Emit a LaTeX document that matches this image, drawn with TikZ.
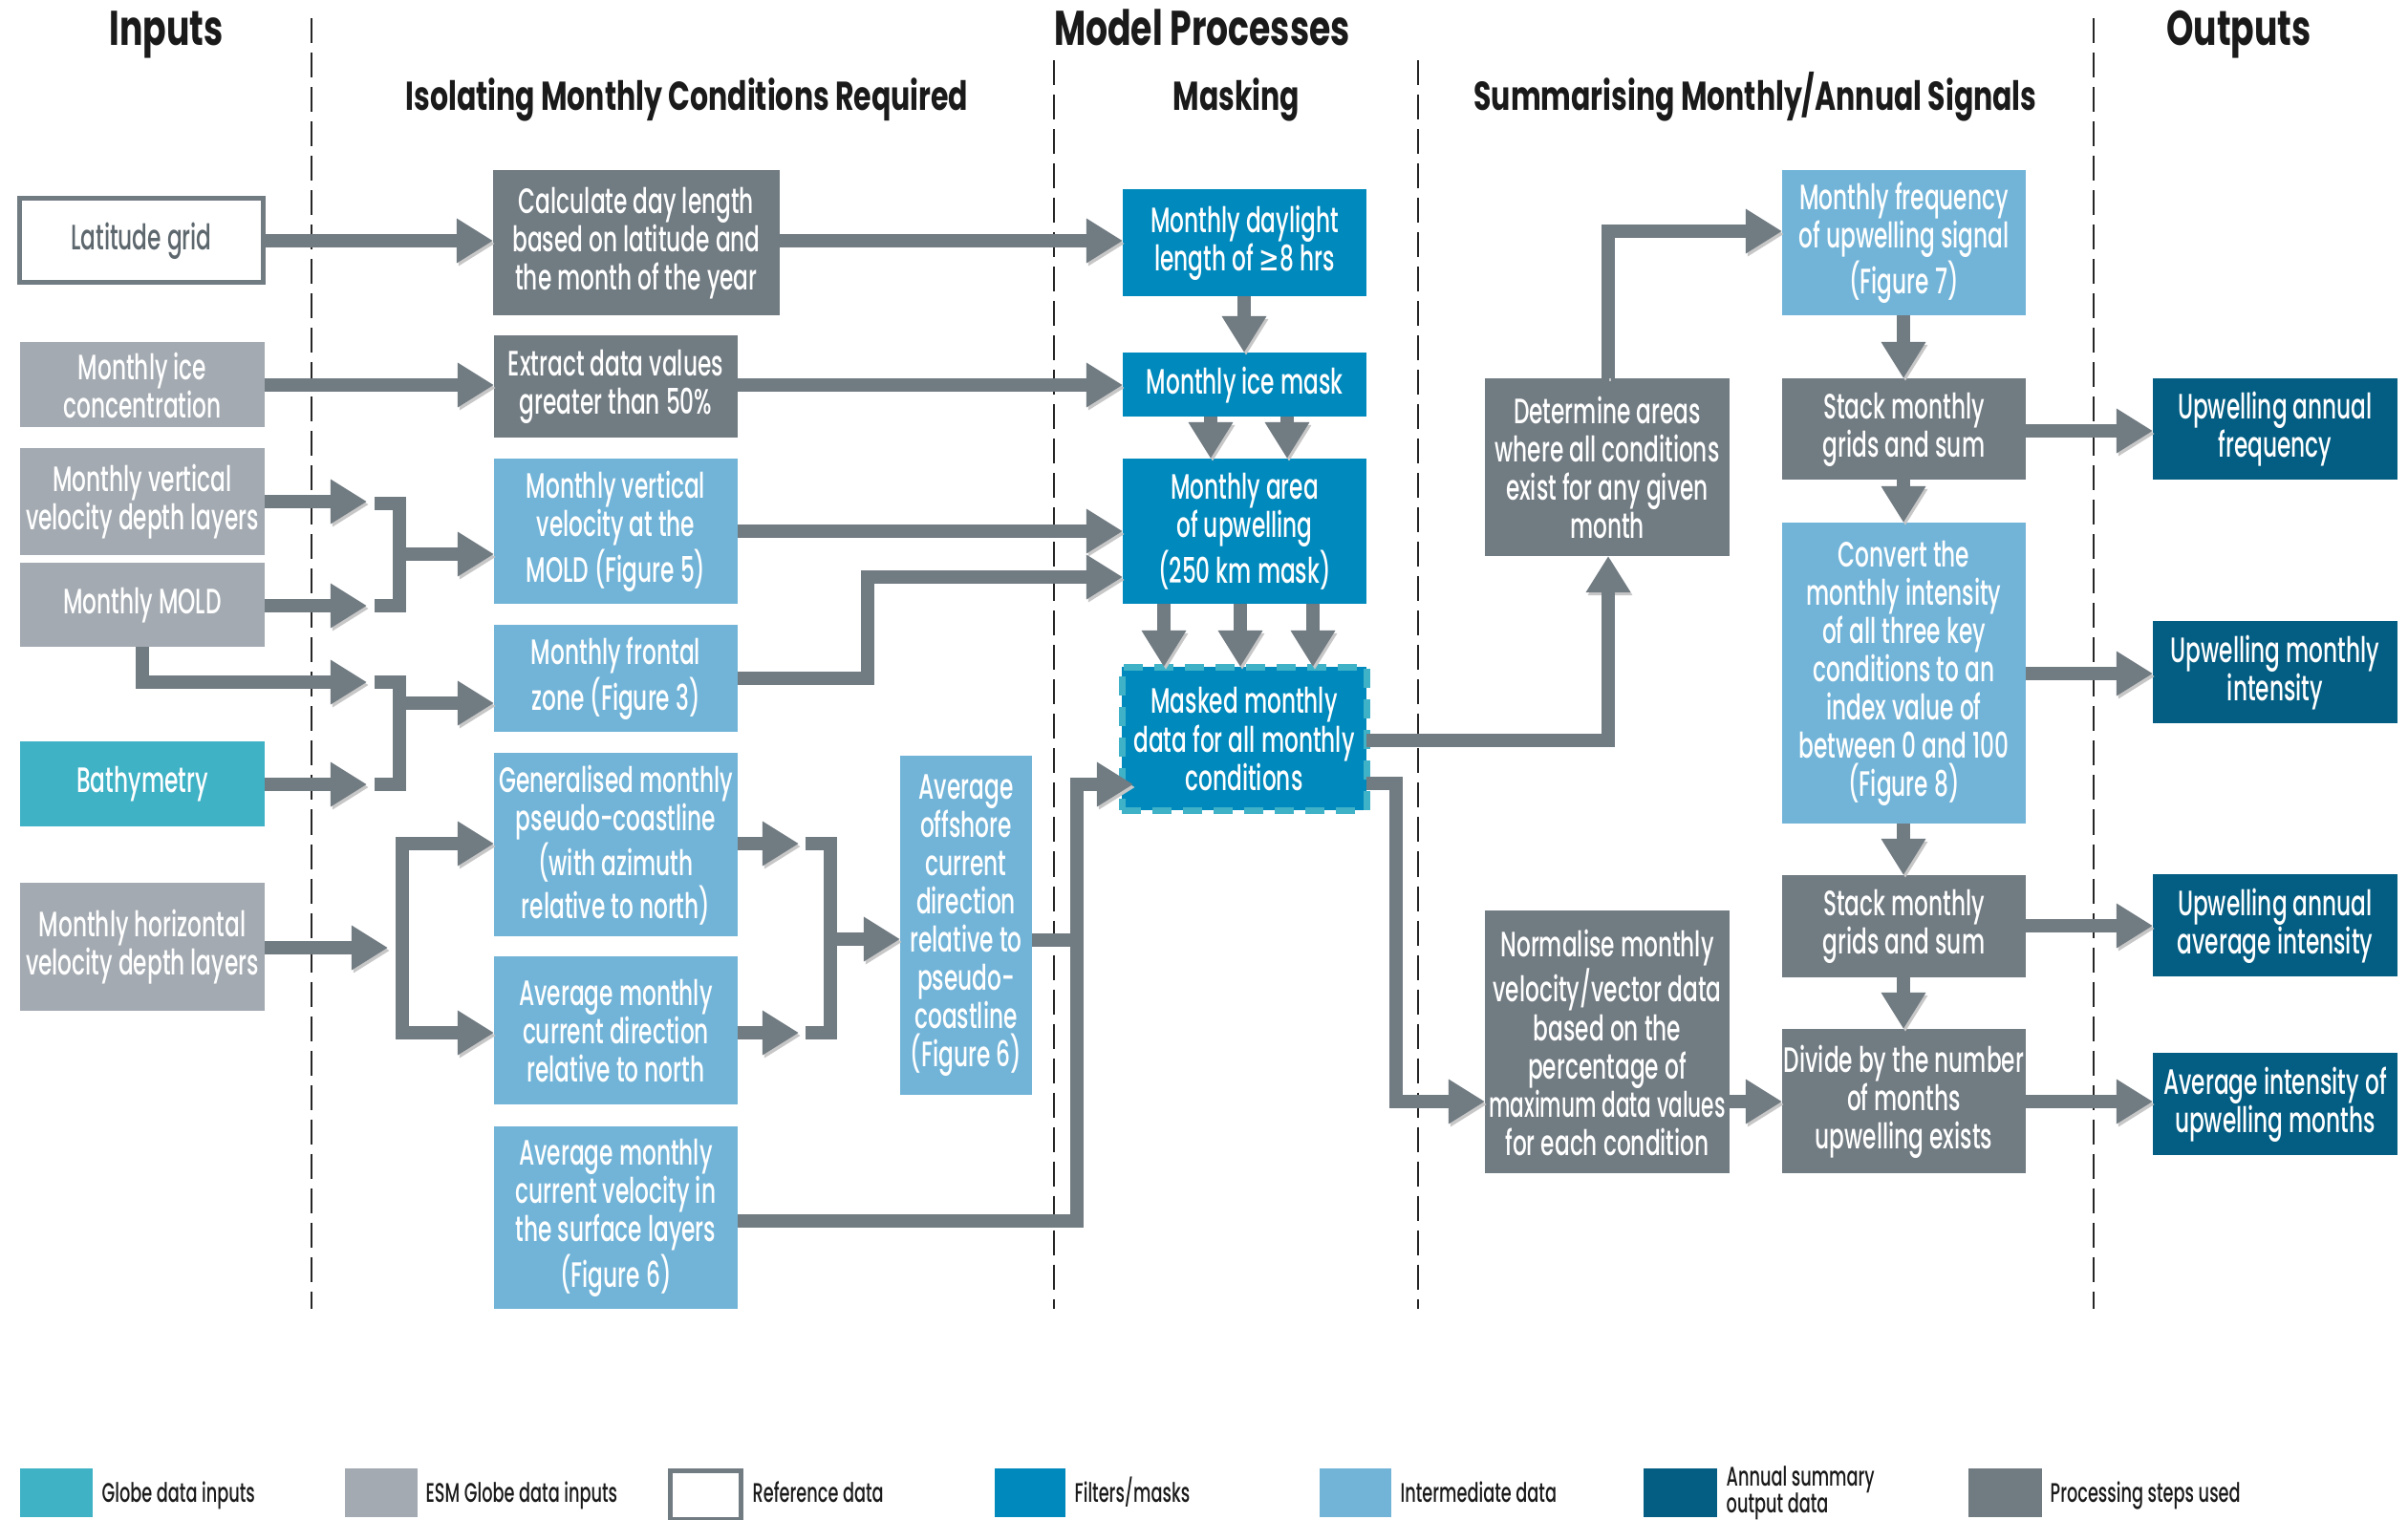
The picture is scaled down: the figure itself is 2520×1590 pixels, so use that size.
\documentclass[tikz,border=0pt]{standalone}
\usepackage{fontspec}
\setmainfont{Poppins}[UprightFont=* Medium, BoldFont=* Bold, FakeStretch=0.63]
\newfontfamily\hdfont{Poppins}[FakeStretch=0.71]
\newfontfamily\symfont{DejaVu Sans}[FakeStretch=0.7]
\usetikzlibrary{arrows.meta,fit}
\definecolor{cGlobe}{HTML}{40B2C6}
\definecolor{cEsm}{HTML}{A3AAB1}
\definecolor{cProc}{HTML}{717B82}
\definecolor{cFilt}{HTML}{0089BC}
\definecolor{cInter}{HTML}{72B4D8}
\definecolor{cOut}{HTML}{045E83}
\definecolor{cDash}{HTML}{3FB2C8}
\definecolor{cTxtGray}{HTML}{5D676E}
\definecolor{cHead}{HTML}{1A1A1A}
\newcommand\nfnt{\fontsize{10.5}{11.38}\selectfont}
\newcommand\mkbox[8][white]{\node[shp,#2,fit={(#4,#5)(#6,#7)}] (#3) {};
  \node[box,text=#1] (#3t) at ([yshift=-0.005cm]#3.center) {#8};}
\begin{document}
\begin{tikzpicture}[x=0.01cm,y=-0.01cm,
  shp/.style={inner sep=0pt,outer sep=0pt},
  box/.style={inner sep=0pt,outer sep=0pt,align=center,font=\nfnt},
  ln/.style={draw=cProc,line width=0.14cm,line join=miter,
    preaction={draw=black!22,transform canvas={shift={(0.02cm,-0.03cm)}}}},
  arr/.style={ln,-{Triangle[width=0.44cm,length=0.38cm]}},
  divline/.style={draw=black!85,line width=0.02cm,dash pattern=on 0.26cm off 0.1cm},
  hdrA/.style={font=\hdfont\fontsize{14.5}{16}\selectfont\bfseries,text=cHead,anchor=base,inner sep=0pt},
  hdrB/.style={font=\hdfont\fontsize{12}{13}\selectfont\bfseries,text=cHead,anchor=base,inner sep=0pt},
  legtxt/.style={font=\fontsize{8}{10}\selectfont,text=cHead,anchor=base west,inner sep=0pt}
]
\fill[white] (0,0) rectangle (2520,1590);
\useasboundingbox (0,0) rectangle (2520,1590);

% headers
\node[hdrA] (hIn) at (174,47) {Inputs};
\node[hdrA] (hMod) at (1258,47) {Model Processes};
\node[hdrA] (hOut) at (2343,47) {Outputs};
\node[hdrB] (hIso) at (719,115) {Isolating Monthly Conditions Required};
\node[hdrB] (hMask) at (1294,115) {Masking};
\node[hdrB] (hSum) at (1837,115) {Summarising Monthly/Annual Signals};

% dividers
\draw[divline] (326,19) -- (326,1370);
\draw[divline] (1103,63) -- (1103,1370);
\draw[divline] (1484,63) -- (1484,1370);
\draw[divline] (2191,19) -- (2191,1370);

% inputs
\mkbox[cTxtGray]{fill=white,draw=cProc,line width=0.05cm}{lat}{20.5}{207.5}{275.5}{295.5}{Latitude grid}
\mkbox{fill=cEsm}{ice}{21}{358}{277}{447}{Monthly ice\\concentration}
\mkbox{fill=cEsm}{vvel}{21}{469}{277}{581}{Monthly vertical\\velocity depth layers}
\mkbox{fill=cEsm}{mold}{21}{589}{277}{677}{Monthly MOLD}
\mkbox{fill=cGlobe}{bathy}{21}{776}{277}{865}{Bathymetry}
\mkbox{fill=cEsm}{hvel}{21}{924}{277}{1058}{Monthly horizontal\\velocity depth layers}

% isolating
\mkbox{fill=cProc}{calc}{516}{178}{816}{330}{Calculate day length\\based on latitude and\\the month of the year}
\mkbox{fill=cProc}{extr}{517}{351}{772}{458}{Extract data values\\greater than 50\%}
\mkbox{fill=cInter}{fig5}{517}{480}{772}{632}{Monthly vertical\\velocity at the\\MOLD (Figure 5)}
\mkbox{fill=cInter}{front}{517}{654}{772}{766}{Monthly frontal\\zone (Figure 3)}
\mkbox{fill=cInter}{gen}{517}{788}{772}{980}{Generalised monthly\\pseudo-coastline\\(with azimuth\\relative to north)}
\mkbox{fill=cInter}{cdir}{517}{1001}{772}{1156}{Average monthly\\current direction\\relative to north}
\mkbox{fill=cInter}{cvel}{517}{1179}{772}{1370}{Average monthly\\current velocity in\\the surface layers\\(Figure 6)}
\mkbox{fill=cInter}{offs}{942}{791}{1080}{1146}{Average\\offshore\\current\\direction\\relative to\\pseudo-\\coastline\\(Figure 6)}

% masking
\mkbox{fill=cFilt}{day}{1175}{198}{1430}{310}{Monthly daylight\\length of {\symfont ≥}8 hrs}
\mkbox{fill=cFilt}{icem}{1175}{369}{1430}{436}{Monthly ice mask}
\mkbox{fill=cFilt}{area}{1175}{480}{1430}{632}{Monthly area\\of upwelling\\(250 km mask)}
\mkbox{fill=cFilt,draw=cDash,line width=0.07cm,dash pattern=on 0.2cm off 0.12cm}{mask}{1174}{698}{1430}{848}{Masked monthly\\data for all monthly\\conditions}

% summarising
\mkbox{fill=cProc}{det}{1554}{396}{1810}{582}{Determine areas\\where all conditions\\exist for any given\\month}
\mkbox{fill=cProc}{norm}{1554}{953}{1810}{1228}{Normalise monthly\\velocity/vector data\\based on the\\percentage of\\\scalebox{0.93}[1]{maximum data values}\\for each condition}
\mkbox{fill=cInter}{freq}{1865}{178}{2120}{330}{Monthly frequency\\of upwelling signal\\(Figure 7)}
\mkbox{fill=cProc}{stk1}{1865}{396}{2120}{502}{Stack monthly\\grids and sum}
\mkbox{fill=cInter}{conv}{1865}{547}{2120}{862}{Convert the\\monthly intensity\\of all three key\\conditions to an\\index value of\\between 0 and 100\\(Figure 8)}
\mkbox{fill=cProc}{stk2}{1865}{916}{2120}{1023}{Stack monthly\\grids and sum}
\mkbox{fill=cProc}{div}{1865}{1077}{2120}{1228}{Divide by the number\\of months\\upwelling exists}

% outputs
\mkbox{fill=cOut}{o1}{2253}{396}{2509}{502}{Upwelling annual\\frequency}
\mkbox{fill=cOut}{o2}{2253}{650}{2509}{757}{Upwelling monthly\\intensity}
\mkbox{fill=cOut}{o3}{2253}{915}{2509}{1022}{Upwelling annual\\average intensity}
\mkbox{fill=cOut}{o4}{2253}{1102}{2509}{1209}{Average intensity of\\upwelling months}

% junction coordinates
\coordinate (b1a) at (384,525);
\coordinate (b1b) at (384,634);
\coordinate (b2a) at (384,714);
\coordinate (b2b) at (384,821);
\coordinate (sp) at (406,992);
\coordinate (b3a) at (836,883);
\coordinate (b3b) at (836,1081);
\coordinate (mIn) at (1186,821);

% connectors
\draw[arr] (lat.east |- 0,252) -- (calc.west |- 0,252);
\draw[arr] (calc.east |- 0,252) -- (day.west |- 0,252);
\draw[arr] (ice.east |- 0,403) -- (extr.west |- 0,403);
\draw[arr] (extr.east |- 0,403) -- (icem.west |- 0,403);
\draw[arr] (day.south -| 1302,0) -- (icem.north -| 1302,0);
\draw[arr] (icem.south -| 1267,0) -- (area.north -| 1267,0);
\draw[arr] (icem.south -| 1347,0) -- (area.north -| 1347,0);
\draw[arr] (area.south -| 1218,0) -- (mask.north -| 1218,0);
\draw[arr] (area.south -| 1298,0) -- (mask.north -| 1298,0);
\draw[arr] (area.south -| 1374,0) -- (mask.north -| 1374,0);

\draw[arr] (vvel.east |- b1a) -- (b1a);
\draw[arr] (mold.east |- b1b) -- (b1b);
\draw[ln] (392,527) -- (418,527) -- (418,634) -- (392,634);
\draw[arr] (418,580) -- (fig5.west |- 0,580);

\draw[arr] (mold.south -| 149,0) |- (b2a);
\draw[arr] (bathy.east |- b2b) -- (b2b);
\draw[ln] (392,714) -- (418,714) -- (418,821) -- (392,821);
\draw[arr] (418,736) -- (front.west |- 0,736);

\draw[arr] (fig5.east |- 0,556) -- (area.west |- 0,556);
\draw[arr] (front.east |- 0,710) -| (908,604) -- (area.west |- 0,604);

\draw[arr] (hvel.east |- sp) -- (sp);
\draw[arr] (421,992) |- (gen.west |- 0,883);
\draw[arr] (421,992) |- (cdir.west |- 0,1081);

\draw[arr] (gen.east |- b3a) -- (b3a);
\draw[arr] (cdir.east |- b3b) -- (b3b);
\draw[ln] (843,883) -- (869,883) -- (869,1081) -- (843,1081);
\draw[arr] (869,983) -- (offs.west |- 0,983);

\draw[ln] (cvel.east |- 0,1278) -| (1127,984);
\draw[arr] (offs.east |- 0,984) -| (1127,821) -- (mIn);

\draw[arr] (mask.east |- 0,775) -| (det.south -| 1683,0);
\draw[arr] (det.north -| 1683,0) |- (freq.west |- 0,242);
\draw[arr] (mask.east |- 0,820) -| (1461,1153) -- (norm.west |- 0,1153);
\draw[arr] (norm.east |- 0,1153) -- (div.west |- 0,1153);

\draw[arr] (freq.south -| 1992,0) -- (stk1.north -| 1992,0);
\draw[arr] (stk1.south -| 1992,0) -- (conv.north -| 1992,0);
\draw[arr] (conv.south -| 1992,0) -- (stk2.north -| 1992,0);
\draw[arr] (stk2.south -| 1992,0) -- (div.north -| 1992,0);
\draw[arr] (stk1.east |- 0,451) -- (o1.west |- 0,451);
\draw[arr] (conv.east |- 0,705) -- (o2.west |- 0,705);
\draw[arr] (stk2.east |- 0,969) -- (o3.west |- 0,969);
\draw[arr] (div.east |- 0,1153) -- (o4.west |- 0,1153);

% legend
\node[shp,fill=cGlobe,fit={(21,1537)(97,1588)}] (lg1) {};
\node[legtxt] (lt1) at (106,1572) {Globe data inputs};
\node[shp,fill=cEsm,fit={(361,1537)(437,1588)}] (lg2) {};
\node[legtxt] (lt2) at (445,1572) {ESM Globe data inputs};
\node[shp,fill=white,draw=cProc,line width=0.05cm,fit={(701.5,1539.5)(775.5,1590)}] (lg3) {};
\node[legtxt] (lt3) at (787,1572) {Reference data};
\node[shp,fill=cFilt,fit={(1041,1537)(1115,1588)}] (lg4) {};
\node[legtxt] (lt4) at (1124,1572) {Filters/masks};
\node[shp,fill=cInter,fit={(1381,1537)(1456,1588)}] (lg5) {};
\node[legtxt] (lt5) at (1465,1572) {Intermediate data};
\node[shp,fill=cOut,fit={(1720,1537)(1797,1588)}] (lg6) {};
\node[legtxt] (lt6a) at (1806,1555) {Annual summary};
\node[legtxt] (lt6b) at (1806,1583) {output data};
\node[shp,fill=cProc,fit={(2060,1537)(2137,1588)}] (lg7) {};
\node[legtxt] (lt7) at (2145,1572) {Processing steps used};
\end{tikzpicture}
\end{document}
